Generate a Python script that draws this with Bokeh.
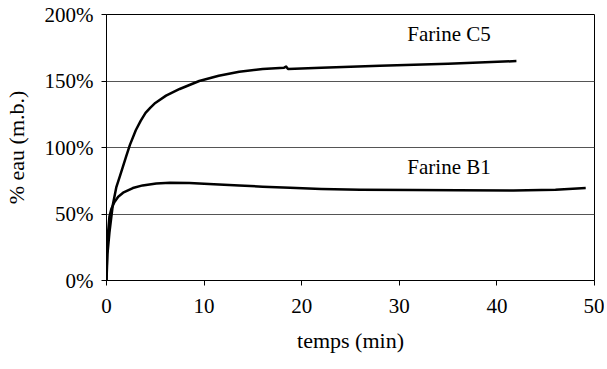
from bokeh.plotting import figure
from bokeh.models import Label, FixedTicker
from bokeh.embed import file_html
from bokeh.resources import INLINE

# Data (time in min, water content in % d.b.)
c5_t = [0, 0.1, 0.3, 0.65, 1.0, 1.4, 1.7, 2.0, 2.4, 3.0, 3.5, 4.0, 4.5, 5.0, 6.1, 7.5,
        9.5, 11.5, 13.6, 16.0, 18.2, 18.4, 18.6, 22.0, 28.0, 35.0, 42.0]
c5_y = [0, 20, 36, 57, 70, 79, 86, 93, 102, 113, 120, 126, 130, 133.5, 139, 144,
        150, 154, 157, 159, 160, 160.8, 159, 160, 161.5, 163, 165]

b1_t = [0, 0.05, 0.15, 0.3, 0.5, 0.82, 1.2, 1.7, 2.7, 3.7, 5.1, 6.5, 8.5, 11.0,
        13.6, 16.0, 18.8, 22.0, 26.0, 31.4, 36.0, 41.7, 46.0, 49.1]
b1_y = [0, 20, 35, 48, 54, 59, 63, 66, 69.5, 71.5, 73, 73.5, 73.3, 72.3,
        71.5, 70.5, 69.7, 68.8, 68.3, 68.0, 67.8, 67.6, 68.3, 69.5]

x_ticks = [0, 10, 20, 30, 40, 50]
y_ticks = [0, 50, 100, 150, 200]
y_tick_labels = ["0%", "50%", "100%", "150%", "200%"]
series_names = ["Farine C5", "Farine B1"]

FONT = "Liberation Serif"

p = figure(width=604, height=366, output_backend="svg", toolbar_location=None,
           x_range=(0, 50), y_range=(0, 200),
           min_border_left=106, min_border_right=10, min_border_top=14, min_border_bottom=86)

p.background_fill_color = "white"
p.border_fill_color = "white"
p.outline_line_color = "black"
p.outline_line_width = 1

p.line(c5_t, c5_y, line_color="black", line_width=2.5, line_join="round")
p.line(b1_t, b1_y, line_color="black", line_width=2.5, line_join="round")

# axes
p.xaxis.ticker = FixedTicker(ticks=x_ticks)
p.yaxis.ticker = FixedTicker(ticks=y_ticks)
p.yaxis.major_label_overrides = {t: l for t, l in zip(y_ticks, y_tick_labels)}
for ax in (p.xaxis, p.yaxis):
    ax.axis_line_color = "black"
    ax.major_tick_line_color = "black"
    ax.major_tick_out = 5
    ax.major_tick_in = 0
    ax.minor_tick_line_color = None
    ax.major_label_text_font = FONT
    ax.major_label_text_font_size = "21px"
    ax.major_label_text_color = "black"
    ax.axis_label_text_font = FONT
    ax.axis_label_text_font_size = "22px"
    ax.axis_label_text_font_style = "normal"
    ax.axis_label_text_color = "black"

p.xaxis.axis_label = "temps (min)"
p.yaxis.axis_label = "% eau (m.b.)"
p.xaxis.major_label_standoff = 13
p.xaxis.axis_label_standoff = 12
p.yaxis.major_label_standoff = 8
p.yaxis.axis_label_standoff = 13

p.xgrid.grid_line_color = None
p.ygrid.grid_line_color = "#555555"
p.ygrid.grid_line_width = 1

p.add_layout(Label(x=35.1, y=185.0, text=series_names[0], text_align="center",
                   text_baseline="alphabetic", text_font=FONT, text_font_size="21px",
                   text_color="black"))
p.add_layout(Label(x=35.1, y=85.0, text=series_names[1], text_align="center",
                   text_baseline="alphabetic", text_font=FONT, text_font_size="21px",
                   text_color="black"))

open("out.html", "w").write(file_html(p, INLINE))
